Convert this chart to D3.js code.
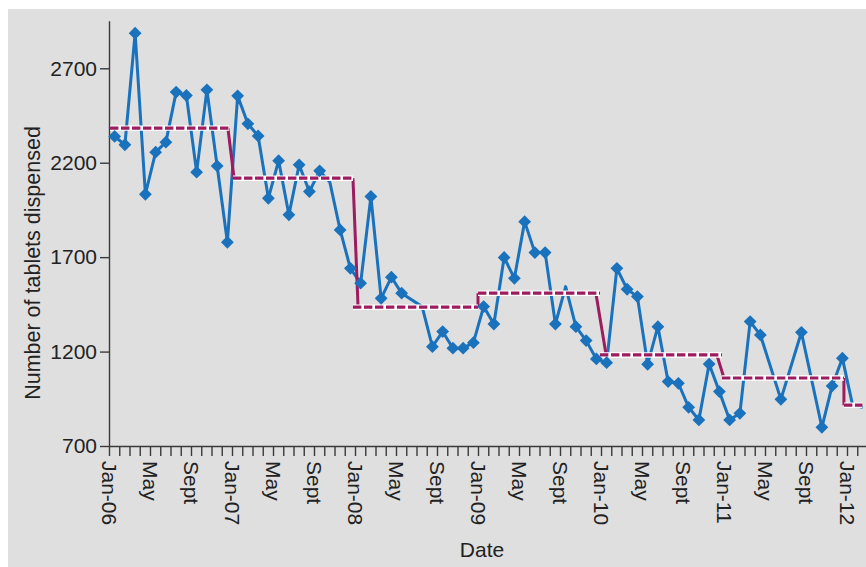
<!DOCTYPE html>
<html>
<head>
<meta charset="utf-8">
<script src="https://cdn.jsdelivr.net/npm/d3@7"></script>
<style>
  html, body { margin: 0; padding: 0; background: #ffffff; }
  svg text { font-family: "Liberation Sans", Arial, Helvetica, sans-serif; fill: #222; }
</style>
</head>
<body>
<div id="chart"></div>
<script>
// monthly observations (a few months have no reading)
const months = [
  "2006-01","2006-02","2006-03","2006-04","2006-05","2006-06","2006-07","2006-08","2006-09","2006-10","2006-11","2006-12",
  "2007-01","2007-02","2007-03","2007-04","2007-05","2007-06","2007-07","2007-08","2007-09","2007-10","2007-11","2007-12",
  "2008-01","2008-02","2008-03","2008-04","2008-05","2008-07","2008-08","2008-09","2008-10","2008-11","2008-12",
  "2009-01","2009-02","2009-03","2009-04","2009-05","2009-06","2009-07","2009-08","2009-09","2009-10","2009-11","2009-12",
  "2010-01","2010-02","2010-03","2010-04","2010-05","2010-06","2010-07","2010-08","2010-09","2010-10","2010-11","2010-12",
  "2011-01","2011-02","2011-03","2011-04","2011-06","2011-08","2011-10","2011-11","2011-12",
  "2012-01","2012-02"
];
const tablets = [
  2339, 2295, 2886, 2033, 2256, 2309, 2574, 2556, 2150, 2586, 2183, 1779,
  2554, 2406, 2342, 2012, 2211, 1924, 2189, 2047, 2157, 2096, 1844, 1641,
  1562, 2021, 1482, 1594, 1509, 1438, 1226, 1306, 1218, 1218, 1247,
  1438, 1346, 1698, 1588, 1888, 1724, 1724, 1346, 1544, 1332, 1258, 1161,
  1141, 1641, 1530, 1491, 1133, 1332, 1041, 1032, 905, 838, 1134, 988,
  838, 873, 1359, 1288, 947, 1302, 799, 1018, 1165,
  915, 905
];
// points drawn without a marker
const noMarker = ["2007-10", "2008-07", "2009-09", "2012-01", "2012-02"];

// yearly means (months counted from Jan-06)
const meanLevels = [2383, 2118, 1435, 1509, 1182, 1060, 916];
const meanStart  = [0.1, 12.1, 23.8, 36.0, 47.9, 59.8, 71.7];
const meanEnd    = [11.7, 23.8, 36.0, 47.9, 59.8, 71.7, 73.5];
const stepFrom   = [11.6, 23.8, 36.0, 47.5, 59.3, 71.7];
const stepTo     = [12.2, 24.3, 36.0, 48.5, 60.0, 71.7];

const tickLabels = ["Jan-06","May","Sept","Jan-07","May","Sept","Jan-08","May","Sept",
                    "Jan-09","May","Sept","Jan-10","May","Sept","Jan-11","May","Sept","Jan-12"];
const yTicks = [700, 1200, 1700, 2200, 2700];

const width = 866, height = 567;
const blue = "#1a72bd", purple = "#9c1c5f";

const svg = d3.select("#chart").append("svg")
    .attr("width", width)
    .attr("height", height);

svg.append("rect")
    .attr("x", 8).attr("y", 9)
    .attr("width", width - 8).attr("height", height - 9)
    .style("fill", "#dfdfdf");

const x = d3.scaleLinear().domain([0, 74]).range([109, 867.5]);
const y = d3.scaleLinear().domain([700, 2952]).range([446, 20.7]);

function monthPos(s) {
    const [yr, mo] = s.split("-").map(Number);
    return (yr - 2006) * 12 + (mo - 1) + 0.55;
}

const data = months.map((m, i) => ({ m: m, t: monthPos(m), v: tablets[i] }));

// x axis: a tick every month, a label every 4 months
const xAxis = d3.axisBottom(x)
    .tickValues(d3.range(0, 74))
    .tickSize(10)
    .tickSizeOuter(0)
    .tickFormat(d => d % 4 === 0 ? tickLabels[d / 4] : "");

const gx = svg.append("g")
    .attr("transform", "translate(0,446)")
    .call(xAxis);
gx.selectAll("text")
    .attr("transform", "rotate(90)")
    .attr("x", 15)
    .attr("y", 0)
    .attr("dy", "0.35em")
    .attr("text-anchor", "start")
    .style("font-size", "21px");

const yAxis = d3.axisLeft(y)
    .tickValues(yTicks)
    .tickSize(9)
    .tickPadding(3)
    .tickSizeOuter(0)
    .tickFormat(d3.format("d"));

const gy = svg.append("g")
    .attr("transform", "translate(109,0)")
    .call(yAxis);
gy.selectAll("text").style("font-size", "21px");

svg.selectAll(".domain, .tick line")
    .style("stroke", "#3a3a3a")
    .style("stroke-width", 1.4);

// data line
const line = d3.line().x(d => x(d.t)).y(d => y(d.v));
svg.append("path")
    .datum(data)
    .attr("d", line)
    .style("fill", "none")
    .style("stroke", blue)
    .style("stroke-width", 3)
    .style("stroke-linejoin", "round");

// mean steps
const meanSegs = meanLevels.map((v, i) => [[meanStart[i], v], [meanEnd[i], v]]);
const stepSegs = stepFrom.map((f, i) => [[f, meanLevels[i]], [stepTo[i], meanLevels[i + 1]]]);
const segLine = d3.line().x(d => x(d[0])).y(d => y(d[1]));

svg.selectAll(".step")
    .data(stepSegs)
    .enter().append("path")
    .attr("class", "step")
    .attr("d", segLine)
    .style("fill", "none")
    .style("stroke", purple)
    .style("stroke-width", 3);

svg.selectAll(".meanbg")
    .data(meanSegs)
    .enter().append("path")
    .attr("class", "meanbg")
    .attr("d", segLine)
    .style("stroke", "#ffffff")
    .style("stroke-width", 5.4);

svg.selectAll(".mean")
    .data(meanSegs)
    .enter().append("path")
    .attr("class", "mean")
    .attr("d", segLine)
    .style("stroke", purple)
    .style("stroke-width", 3.2)
    .style("stroke-dasharray", "8.4,2.6");

// diamond markers
svg.selectAll(".pt")
    .data(data.filter(d => noMarker.indexOf(d.m) < 0))
    .enter().append("path")
    .attr("class", "pt")
    .attr("d", d3.symbol().type(d3.symbolSquare).size(82))
    .attr("transform", d => `translate(${x(d.t)},${y(d.v)}) rotate(45)`)
    .style("fill", blue);

// axis titles
svg.append("text")
    .attr("x", 482)
    .attr("y", 557)
    .attr("text-anchor", "middle")
    .style("font-size", "21px")
    .text("Date");

svg.append("text")
    .attr("transform", "translate(40,263) rotate(-90)")
    .attr("text-anchor", "middle")
    .style("font-size", "21.5px")
    .text("Number of tablets dispensed");
</script>
</body>
</html>
